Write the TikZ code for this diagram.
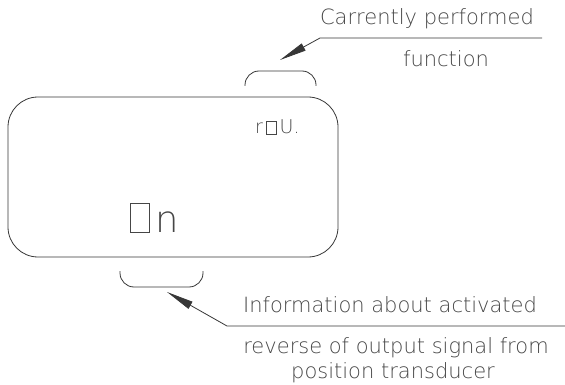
\documentclass[tikz,border=0pt]{standalone}
\usepackage{fontspec}
\usepackage{tikz}
\usetikzlibrary{arrows.meta}
\newfontfamily\cadfont{DejaVu Sans ExtraLight}
\definecolor{cad_line}{RGB}{55, 55, 55}
\definecolor{cad_text}{RGB}{70, 70, 70}
% empty segment cell of the display
\newcommand{\segcell}[2]{{\setlength{\fboxsep}{0pt}\setlength{\fboxrule}{0.7pt}\fbox{\rule{0pt}{#2}\hspace{#1}}}}

\begin{document}
\begin{tikzpicture}[
        x=1pt, y=-1pt,
        every node/.style={font=\cadfont\fontsize{21}{25}\selectfont, text=cad_text, inner sep=0pt},
        panel/.style={draw=cad_line, line width=0.8pt, rounded corners=30pt, minimum width=330pt, minimum height=160pt},
        lcd/.style={anchor=base west},
        note/.style={anchor=base},
        brk/.style={draw=cad_line, line width=0.8pt, rounded corners=14pt},
        lead/.style={draw=cad_line, line width=0.8pt, -{Triangle[length=27pt, width=8pt]}}
    ]
    \useasboundingbox (0,0) rectangle (565,385);
    \node[panel] (panel) at (173,177) {};
    \node[lcd, font=\cadfont\fontsize{19}{22}\selectfont] (mode) at (255,134) {r\,\segcell{9pt}{12pt}\,U.};
    \node[lcd, font=\cadfont\fontsize{37}{40}\selectfont] (state) at (130,232) {\segcell{18pt}{28pt}\,n};
    % brackets over the fields
    \coordinate (fnL) at (245,86);
    \coordinate (fnR) at (316,86);
    \coordinate (revL) at (120,271);
    \coordinate (revR) at (203,271);
    \draw[brk] (fnL) -- ++(0,-15) -| (fnR);
    \draw[brk] (revL) -- ++(0,16) -| (revR);
    % leader lines
    \coordinate (fnTip) at (280,60);
    \coordinate (fnKnee) at (320,38);
    \coordinate (fnEnd) at (542,38);
    \coordinate (revTip) at (167,292);
    \coordinate (revKnee) at (227,326);
    \coordinate (revEnd) at (565,326);
    \draw[lead] (fnEnd) -- (fnKnee) -- (fnTip);
    \draw[lead] (revEnd) -- (revKnee) -- (revTip);
    \node[note] (fnTop) at (427,25) {Carrently performed};
    \node[note] (fnBot) at (446,67) {function};
    \node[note] (revTop) at (390,312) {Information about activated};
    \node[note] (revMid) at (396,353) {reverse of output signal from};
    \node[note] (revBot) at (393,378) {position transducer};
\end{tikzpicture}
\end{document}
